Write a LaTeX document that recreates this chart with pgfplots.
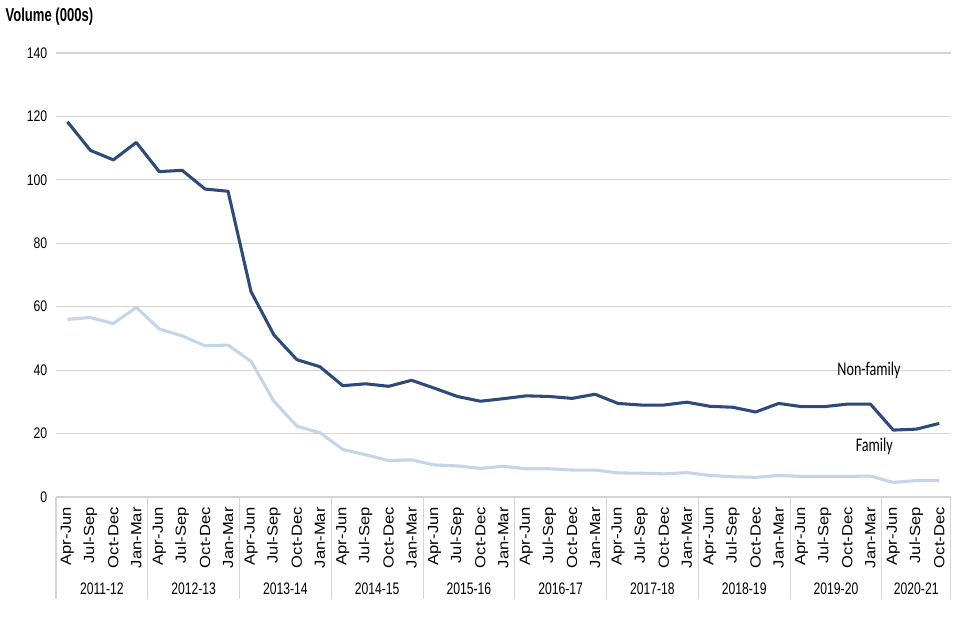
\documentclass[border=0pt]{standalone}
\usepackage{fontspec}
\setmainfont{Liberation Sans}
\newfontfamily\tickf[FakeStretch=0.8]{Liberation Sans}
\newfontfamily\yrf[FakeStretch=0.73]{Liberation Sans}
\newfontfamily\qf[FakeStretch=1.13]{Liberation Sans}
\newfontfamily\titf[FakeStretch=0.7]{Liberation Sans}
\newfontfamily\lblf[FakeStretch=0.73]{Carlito}
\usepackage{pgfplots}
\pgfplotsset{compat=1.18}

\definecolor{nonfam}{RGB}{46,74,122}
\definecolor{fam}{RGB}{196,213,234}
\definecolor{gridgray}{RGB}{212,212,212}

\begin{document}
\begin{tikzpicture}
\path[use as bounding box] (-42pt,-107.25pt) rectangle (678pt,372.75pt);
\begin{axis}[
  at={(0,0)}, anchor=south west,
  width=671pt, height=333pt, scale only axis,
  clip=false,
  xmin=-0.5, xmax=38.5,
  ymin=0, ymax=140,
  ytick={0,20,...,140},
  xtick={0,...,38},
  xticklabels={Apr-Jun,Jul-Sep,Oct-Dec,Jan-Mar,Apr-Jun,Jul-Sep,Oct-Dec,Jan-Mar,
    Apr-Jun,Jul-Sep,Oct-Dec,Jan-Mar,Apr-Jun,Jul-Sep,Oct-Dec,Jan-Mar,
    Apr-Jun,Jul-Sep,Oct-Dec,Jan-Mar,Apr-Jun,Jul-Sep,Oct-Dec,Jan-Mar,
    Apr-Jun,Jul-Sep,Oct-Dec,Jan-Mar,Apr-Jun,Jul-Sep,Oct-Dec,Jan-Mar,
    Apr-Jun,Jul-Sep,Oct-Dec,Jan-Mar,Apr-Jun,Jul-Sep,Oct-Dec},
  minor xtick={-0.5,3.5,...,35.5,38.5},
  tick align=outside,
  major tick length=0pt,
  minor tick length=76.5pt,
  minor tick style={draw=gridgray, line width=0.8pt},
  axis x line*=bottom, axis y line*=left,
  x axis line style={draw=gridgray, line width=0.8pt, -},
  y axis line style={draw=none},
  ymajorgrids,
  grid style={draw=gridgray, line width=0.8pt},
  xticklabel style={rotate=90, anchor=east, inner sep=0pt, font=\qf\fontsize{11}{13}\selectfont},
  xticklabel shift=7.5pt,
  yticklabel style={font=\tickf\fontsize{11.5}{13}\selectfont},
  yticklabel shift=3pt,
  /pgf/number format/assume math mode=true,
]
\addplot[nonfam, line width=2.3pt, line join=round] coordinates {
(0,118.3) (1,109.3) (2,106.3) (3,111.8) (4,102.6) (5,103.0) (6,97.1) (7,96.4)
(8,64.8) (9,51.1) (10,43.3) (11,41.1) (12,35.1) (13,35.7) (14,34.9) (15,36.8)
(16,34.3) (17,31.7) (18,30.2) (19,31.0) (20,31.9) (21,31.7) (22,31.1) (23,32.4)
(24,29.5) (25,29.0) (26,29.0) (27,29.9) (28,28.6) (29,28.3) (30,26.8) (31,29.5)
(32,28.5) (33,28.5) (34,29.3) (35,29.3) (36,21.1) (37,21.4) (38,23.2)
};
\addplot[fam, line width=2.3pt, line join=round] coordinates {
(0,56.0) (1,56.6) (2,54.7) (3,59.8) (4,53.0) (5,50.8) (6,47.7) (7,47.9)
(8,42.8) (9,30.2) (10,22.3) (11,20.3) (12,15.0) (13,13.3) (14,11.5) (15,11.7)
(16,10.1) (17,9.8) (18,9.0) (19,9.7) (20,8.9) (21,8.9) (22,8.5) (23,8.5)
(24,7.6) (25,7.5) (26,7.3) (27,7.7) (28,6.8) (29,6.4) (30,6.2) (31,6.8)
(32,6.5) (33,6.5) (34,6.5) (35,6.6) (36,4.6) (37,5.2) (38,5.2)
};
\tikzset{yr/.style={font=\yrf\fontsize{12.5}{14}\selectfont, yshift=-69pt}}
\node[yr] at (axis cs:1.5,0) {2011-12};
\node[yr] at (axis cs:5.5,0) {2012-13};
\node[yr] at (axis cs:9.5,0) {2013-14};
\node[yr] at (axis cs:13.5,0) {2014-15};
\node[yr] at (axis cs:17.5,0) {2015-16};
\node[yr] at (axis cs:21.5,0) {2016-17};
\node[yr] at (axis cs:25.5,0) {2017-18};
\node[yr] at (axis cs:29.5,0) {2018-19};
\node[yr] at (axis cs:33.5,0) {2019-20};
\node[yr] at (axis cs:37,0) {2020-21};
\node[font=\lblf\fontsize{14.5}{16}\selectfont] at (axis cs:34.94,39.8) {Non-family};
\node[font=\lblf\fontsize{14.5}{16}\selectfont] at (axis cs:35.17,16.0) {Family};
\end{axis}
\node[anchor=west, inner sep=0pt, font=\titf\bfseries\fontsize{14}{16}\selectfont] at (-38pt,360pt) {Volume (000s)};
\end{tikzpicture}
\end{document}
